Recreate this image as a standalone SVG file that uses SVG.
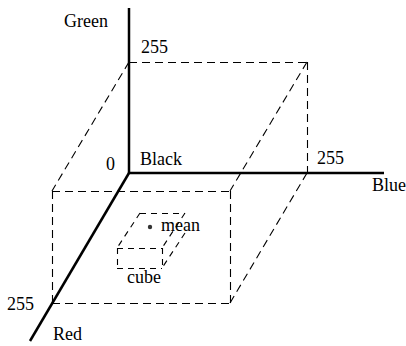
<svg xmlns="http://www.w3.org/2000/svg" width="406" height="346" viewBox="0 0 406 346">
<style>
.axis{stroke:#000;stroke-width:2.5;fill:none;stroke-linecap:butt}
.dash{stroke:#000;stroke-width:1.1;fill:none;stroke-dasharray:8 5}
.sdash{stroke:#000;stroke-width:1.1;fill:none;stroke-dasharray:6 5}
text{font-family:"Liberation Serif","Times New Roman",serif;font-size:18px;fill:#000}
</style>
<rect width="406" height="346" fill="#fff"/>
<g id="box">
<line class="dash" x1="129" y1="62.5" x2="307.5" y2="62.5"/>
<line class="dash" x1="307.5" y1="62" x2="307.5" y2="173"/>
<line class="dash" x1="129" y1="62" x2="52" y2="191"/>
<line class="dash" x1="307" y1="62" x2="230" y2="191"/>
<line class="dash" x1="307" y1="173" x2="230" y2="303"/>
<line class="dash" x1="52" y1="191.5" x2="230" y2="191.5"/>
<line class="dash" x1="52.5" y1="191" x2="52.5" y2="303"/>
<line class="dash" x1="230.5" y1="191" x2="230.5" y2="303"/>
<line class="dash" x1="52" y1="303.5" x2="230" y2="303.5"/>
</g>
<g id="connectors">
<line id="green-axis" class="axis" x1="129" y1="8" x2="129" y2="174"/>
<line id="blue-axis" class="axis" x1="128" y1="173" x2="384" y2="173"/>
<line id="red-axis" class="axis" x1="129" y1="173" x2="30" y2="341"/>
</g>
<g id="cube">
<line class="sdash" x1="140" y1="213.5" x2="185" y2="213.5"/>
<line class="sdash" x1="140" y1="213" x2="117" y2="248"/>
<line class="sdash" x1="185" y1="213" x2="162" y2="248"/>
<line class="sdash" x1="185" y1="233" x2="162" y2="268"/>
<line class="sdash" x1="117" y1="248.5" x2="162" y2="248.5"/>
<line class="sdash" x1="117.5" y1="248" x2="117.5" y2="268"/>
<line class="sdash" x1="162.5" y1="248" x2="162.5" y2="268"/>
<line class="sdash" x1="117" y1="268.5" x2="162" y2="268.5"/>
</g>
<g id="mean">
<circle cx="150" cy="227" r="2.2" fill="#333"/>
<text x="161" y="231">mean</text>
</g>
<g id="labels">
<text x="64" y="27">Green</text>
<text x="141" y="53">255</text>
<text x="106" y="170">0</text>
<text x="140" y="165">Black</text>
<text x="317" y="164">255</text>
<text x="372" y="191">Blue</text>
<text x="127" y="283">cube</text>
<text x="7" y="310">255</text>
<text x="53" y="340">Red</text>
</g>
</svg>
